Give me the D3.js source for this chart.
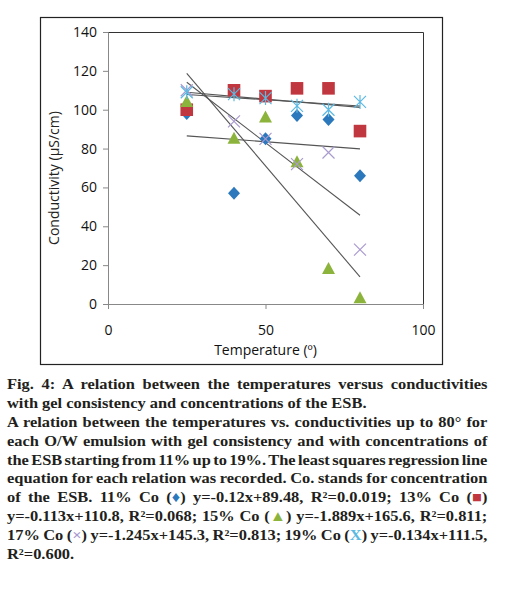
<!DOCTYPE html>
<html><head><meta charset="utf-8">
<script src="https://cdn.jsdelivr.net/npm/d3@7"></script>
<style>body{margin:0;background:#fff}svg{display:block}</style>
</head><body>
<svg id="c" width="515" height="589"></svg>
<script>
const temps = [25, 40, 50, 60, 70, 80];
const co11 = [98, 57, 85, 97, 95, 66];
const co13 = [100, 110, 107, 111, 111, 89];
const co15 = [104, 85, 96, 73, 18, 3];
const co17 = [110, 94, 85, 72, 78, 28];
const co19 = [109, 108, 106, 102, 100, 104];
const xTicks = [0, 50, 100];
const yTicks = [0, 20, 40, 60, 80, 100, 120, 140];
const seriesNames = ["11% Co", "13% Co", "15% Co", "17% Co", "19% Co"];
const seriesColors = ["#2b78bc", "#c0373f", "#8cb43c", "#a99ad0", "#5cb9e2"];
const seriesShapes = ["diamond", "square", "triangle", "x", "star"];
const captionLines = [
  [["Fig. 4: A relation between the temperatures versus conductivities"]],
  [["with gel consistency and concentrations of the ESB."]],
  [["A relation between the temperatures vs. conductivities up to 80° for"]],
  [["each O/W emulsion with gel consistency and with concentrations of"]],
  [["the ESB starting from 11% up to 19%. The least squares regression line"]],
  [["equation for each relation was recorded. Co. stands for concentration"]],
  [["of the ESB. 11% Co ("],["♦",0],[") y=-0.12x+89.48, R²=0.0.019; 13% Co ("],["■",1],[")"]],
  [["y=-0.113x+110.8, R²=0.068; 15% Co ("],["▲",2],[") y=-1.889x+165.6, R²=0.811;"]],
  [["17% Co ("],["×",3],[") y=-1.245x+145.3, R²=0.813; 19% Co ("],["X",4],[") y=-0.134x+111.5,"]],
  [["R²=0.600."]]
];
const justify = [true,false,true,true,true,true,true,true,true,false];

const data = [co11, co13, co15, co17, co19];
const svg = d3.select("#c");

// outer frame
svg.append("rect").attr("x",40.5).attr("y",17.5).attr("width",402).attr("height",347)
  .attr("fill","#fff").attr("stroke","#222").attr("stroke-width",1.2);

const L=108, R=423, T=32, B=304;
const x = d3.scaleLinear().domain([0,100]).range([L,R]);
const y = d3.scaleLinear().domain([0,140]).range([B,T]);

svg.append("path").attr("d",`M${L},${T+0.5}H${R+0.5}V${B}`).attr("fill","none").attr("stroke","#333").attr("stroke-width",1);

const font = "'Open Sans', Lato, sans-serif";
const gy = svg.append("g").attr("transform",`translate(${L},0)`)
  .call(d3.axisLeft(y).tickValues(yTicks).tickSize(5).tickPadding(6));
const gx = svg.append("g").attr("transform",`translate(0,${B})`)
  .call(d3.axisBottom(x).tickValues(xTicks).tickSize(5).tickPadding(16));
[gx,gy].forEach(g=>{
  g.selectAll("path,line").attr("stroke","#888");
  g.selectAll("text").attr("font-family",font).attr("font-size",14).attr("fill","#111");
});

svg.append("text").attr("x",(L+R)/2).attr("y",355).attr("text-anchor","middle")
  .attr("font-family",font).attr("font-size",14).attr("fill","#111").text("Temperature (º)");
svg.append("text").attr("transform",`translate(59,${178}) rotate(-90)`).attr("text-anchor","middle")
  .attr("font-family",font).attr("font-size",14).attr("fill","#222").text("Conductivity (µS/cm)");

// trendlines via least squares
const tl = svg.append("g");
data.forEach(vals=>{
  const mx = d3.mean(temps), my = d3.mean(vals);
  let sxy=0,sxx=0;
  temps.forEach((t,i)=>{sxy+=(t-mx)*(vals[i]-my); sxx+=(t-mx)*(t-mx);});
  const m = sxy/sxx, b = my-m*mx;
  const x0=d3.min(temps), x1=d3.max(temps);
  tl.append("line").attr("x1",x(x0)).attr("y1",y(m*x0+b)).attr("x2",x(x1)).attr("y2",y(m*x1+b))
    .attr("stroke","#555").attr("stroke-width",1.1);
});

// markers
data.forEach((vals,si)=>{
  const g = svg.append("g");
  const shape = seriesShapes[si], col = seriesColors[si];
  vals.forEach((v,i)=>{
    const cx=x(temps[i]), cy=y(v);
    let d;
    if (shape==="x"){
      g.append("path").attr("d",`M${cx-6},${cy-6}L${cx+6},${cy+6}M${cx-6},${cy+6}L${cx+6},${cy-6}`)
        .attr("stroke",col).attr("stroke-width",1.2).attr("fill","none");
      return;
    } else if (shape==="star"){
      g.append("path").attr("d",`M${cx-6},${cy-6}L${cx+6},${cy+6}M${cx-6},${cy+6}L${cx+6},${cy-6}M${cx},${cy-7}L${cx},${cy+7}`)
        .attr("stroke",col).attr("stroke-width",1.2).attr("fill","none");
      return;
    } else if (shape==="diamond"){
      d = `M${cx},${cy-6.5}L${cx+6},${cy}L${cx},${cy+6.5}L${cx-6},${cy}Z`;
    } else if (shape==="square"){
      d = `M${cx-6.3},${cy-6.3}h12.6v12.6h-12.6Z`;
    } else {
      d = `M${cx},${cy-7}L${cx+6.5},${cy+5}L${cx-6.5},${cy+5}Z`;
    }
    g.append("path").attr("d",d).attr("fill",col);
  });
});

// caption (justified; horizontally stretched to mimic the wider original face)
const capFont = "'Liberation Serif', 'Times New Roman', serif";
const capLeft = 7, capRight = 488, lh = 18.9, y0 = 389;
const target = capRight - capLeft;
const line2Width = 360;
const capG = svg.append("g");
const texts = captionLines.map((parts,li)=>{
  const t = capG.append("text").attr("y",y0+li*lh)
    .attr("font-family",capFont).attr("font-size",15).attr("font-weight","bold").attr("fill","#231f20");
  parts.forEach(p=>{
    const ts = t.append("tspan").text(p[0]);
    if (p.length>1) ts.attr("fill",seriesColors[p[1]]).attr("font-weight", p[0]==="X"?"900":"bold");
  });
  return t;
});
const widths = texts.map(t=>t.node().getComputedTextLength());
const sx = line2Width / widths[1];
capG.attr("transform",`scale(${sx},1)`);
const minWS = -1.6;
texts.forEach((t,li)=>{
  t.attr("x",capLeft/sx);
  const txt = captionLines[li].map(p=>p[0]).join("");
  const nsp = (txt.match(/ /g)||[]).length;
  if (justify[li] && nsp>0) {
    let ws = ((target/sx)-widths[li])/nsp;
    if (ws < minWS) {
      const deficit = (minWS - ws) * nsp;
      const nch = txt.length - 1;
      t.attr("letter-spacing", -deficit/nch);
      ws = minWS;
    }
    t.attr("word-spacing", ws);
  }
});
</script>
</body></html>
